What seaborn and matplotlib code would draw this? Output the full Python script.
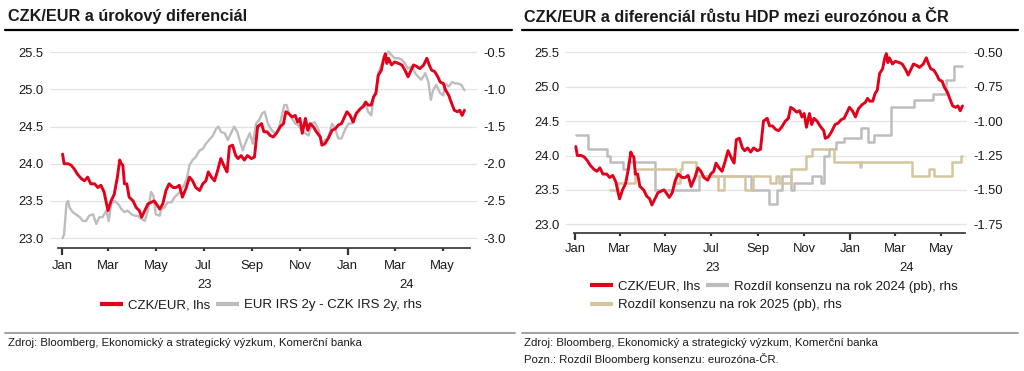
import numpy as np
import pandas as pd
import matplotlib
matplotlib.use('Agg')
import matplotlib.pyplot as plt
import matplotlib.dates as mdates
from matplotlib.lines import Line2D
from matplotlib.ticker import FixedLocator, FixedFormatter
import seaborn as sns

# ---------------- data (day offsets from 2023-01-01) ----------------
czk_days = [1, 3, 8, 12, 16, 20, 25, 29, 33, 37,
            42, 46, 50, 54, 59, 63, 67, 71, 74, 76,
            78, 80, 83, 86, 91, 95, 99, 102, 106, 110,
            114, 118, 122, 125, 129, 133, 137, 142, 146, 150,
            154, 159, 163, 167, 171, 176, 180, 184, 187, 191,
            195, 199, 203, 208, 211, 214, 218, 222, 225, 229,
            233, 237, 242, 246, 250, 255, 258, 262, 266, 270,
            274, 279, 283, 286, 289, 294, 298, 301, 304, 307,
            311, 314, 317, 321, 325, 330, 332, 336, 340, 345,
            349, 353, 357, 361, 364, 368, 372, 376, 381, 385,
            388, 391, 395, 398, 401, 404, 408, 411, 413, 415,
            417, 421, 425, 430, 434, 438, 442, 445, 449, 453,
            457, 462, 466, 469, 472, 476, 480, 483, 487, 490,
            494, 497, 501, 505, 508, 511, 514]
czk_eur = [24.13, 24.00, 24.00, 23.98, 23.93, 23.86, 23.80, 23.77, 23.82, 23.73,
           23.73, 23.68, 23.71, 23.62, 23.37, 23.50, 23.59, 23.82, 24.05, 24.00,
           23.98, 23.73, 23.73, 23.55, 23.50, 23.41, 23.37, 23.28, 23.37, 23.46,
           23.48, 23.50, 23.44, 23.39, 23.46, 23.64, 23.73, 23.68, 23.68, 23.71,
           23.55, 23.68, 23.82, 23.77, 23.68, 23.64, 23.73, 23.77, 23.89, 23.82,
           23.77, 23.91, 24.07, 23.95, 23.89, 24.23, 24.25, 24.11, 24.07, 24.11,
           24.05, 24.11, 24.07, 24.09, 24.50, 24.54, 24.43, 24.43, 24.38, 24.36,
           24.41, 24.50, 24.54, 24.70, 24.68, 24.63, 24.65, 24.56, 24.61, 24.41,
           24.61, 24.45, 24.54, 24.50, 24.43, 24.36, 24.25, 24.27, 24.34, 24.45,
           24.47, 24.52, 24.54, 24.63, 24.70, 24.65, 24.56, 24.68, 24.74, 24.77,
           24.83, 24.79, 24.79, 24.90, 24.95, 25.19, 25.26, 25.42, 25.48, 25.35,
           25.42, 25.33, 25.37, 25.35, 25.33, 25.26, 25.17, 25.24, 25.33, 25.31,
           25.28, 25.33, 25.42, 25.33, 25.26, 25.24, 25.17, 25.10, 25.08, 24.99,
           24.92, 24.83, 24.72, 24.70, 24.72, 24.65, 24.72]

irs_days = [1, 3, 6, 8, 10, 14, 18, 23, 27, 31,
            35, 40, 44, 48, 52, 57, 60, 63, 67, 72,
            76, 80, 84, 89, 93, 97, 101, 106, 110, 114,
            117, 120, 125, 127, 131, 135, 140, 144, 148, 152,
            157, 160, 163, 167, 171, 176, 180, 184, 188, 193,
            197, 200, 203, 208, 212, 216, 220, 224, 227, 231,
            236, 240, 244, 248, 252, 256, 259, 263, 268, 272,
            276, 281, 284, 287, 290, 294, 298, 302, 306, 311,
            315, 319, 323, 328, 332, 336, 340, 345, 349, 353,
            357, 362, 366, 370, 374, 379, 383, 387, 391, 395,
            398, 401, 404, 408, 413, 417, 421, 425, 430, 434,
            438, 442, 447, 451, 455, 459, 464, 468, 471, 474,
            478, 483, 487, 489, 494, 498, 502, 506, 510, 514]
irs_diff = [-3.00, -2.95, -2.54, -2.50, -2.59, -2.65, -2.68, -2.72, -2.77, -2.77,
            -2.70, -2.68, -2.81, -2.72, -2.72, -2.63, -2.77, -2.54, -2.50, -2.54,
            -2.61, -2.65, -2.63, -2.68, -2.70, -2.70, -2.74, -2.77, -2.63, -2.38,
            -2.43, -2.68, -2.70, -2.61, -2.59, -2.52, -2.52, -2.45, -2.41, -2.36,
            -2.27, -2.18, -2.02, -1.95, -1.91, -1.82, -1.80, -1.73, -1.68, -1.62,
            -1.53, -1.50, -1.57, -1.59, -1.68, -1.59, -1.50, -1.57, -1.68, -1.82,
            -1.68, -1.59, -1.73, -1.46, -1.41, -1.32, -1.30, -1.46, -1.55, -1.59,
            -1.57, -1.35, -1.21, -1.21, -1.32, -1.39, -1.46, -1.48, -1.55, -1.59,
            -1.62, -1.46, -1.44, -1.55, -1.73, -1.68, -1.66, -1.46, -1.53, -1.66,
            -1.66, -1.53, -1.46, -1.46, -1.35, -1.30, -1.23, -1.17, -1.30, -1.35,
            -1.12, -1.03, -0.78, -0.67, -0.56, -0.49, -0.54, -0.58, -0.58, -0.60,
            -0.65, -0.72, -0.69, -0.78, -0.83, -0.87, -0.78, -0.90, -1.14, -1.01,
            -0.94, -1.05, -1.08, -0.92, -0.96, -0.90, -0.92, -0.92, -0.94, -1.01]

gdp24_days = [1, 17, 42, 46, 64, 70, 106, 165, 233, 257,
              268, 275, 286, 290, 315, 326, 330, 337, 346, 357,
              379, 388, 397, 419, 450, 475, 492, 503, 513]
gdp24_diff = [-1.10, -1.20, -1.25, -1.30, -1.35, -1.30, -1.50, -1.40, -1.50, -1.60,
              -1.50, -1.40, -1.50, -1.45, -1.40, -1.45, -1.25, -1.20, -1.15, -1.12,
              -1.05, -1.15, -1.10, -0.90, -0.85, -0.80, -0.70, -0.60, -0.60]

gdp25_days = [47, 55, 79, 134, 139, 142, 161, 190, 197, 225,
              236, 258, 267, 270, 286, 306, 315, 344, 378, 380,
              447, 469, 476, 500, 512, 513]
gdp25_diff = [-1.50, -1.45, -1.35, -1.45, -1.35, -1.30, -1.40, -1.50, -1.40, -1.50,
              -1.40, -1.45, -1.40, -1.45, -1.35, -1.25, -1.20, -1.30, -1.33, -1.30,
              -1.40, -1.35, -1.40, -1.30, -1.25, -1.25]

month_ticks = ['2023-01-01', '2023-03-01', '2023-05-01', '2023-07-01', '2023-09-01',
               '2023-11-01', '2024-01-01', '2024-03-01', '2024-05-01']
month_labels = ['Jan', 'Mar', 'May', 'Jul', 'Sep', 'Nov', 'Jan', 'Mar', 'May']
year_pos = ['2023-07-02', '2024-03-16']
year_labels = ['23', '24']

lhs_ticks = [23.0, 23.5, 24.0, 24.5, 25.0, 25.5]
rhs1_ticks = [-3.0, -2.5, -2.0, -1.5, -1.0, -0.5]
rhs2_ticks = [-1.75, -1.50, -1.25, -1.00, -0.75, -0.50]

title1 = 'CZK/EUR a úrokový diferenciál'
title2 = 'CZK/EUR a diferenciál růstu HDP mezi eurozónou a ČR'
leg_czk = 'CZK/EUR, lhs'
leg_irs = 'EUR IRS 2y - CZK IRS 2y, rhs'
leg_24 = 'Rozdíl konsenzu na rok 2024 (pb), rhs'
leg_25 = 'Rozdíl konsenzu na rok 2025 (pb), rhs'
source = 'Zdroj: Bloomberg, Ekonomický a strategický výzkum, Komerční banka'
note = 'Pozn.: Rozdíl Bloomberg konsenzu: eurozóna-ČR.'

# ---------------- styling ----------------
sns.set_theme(style='white')
plt.rcParams['font.family'] = ['Liberation Sans', 'DejaVu Sans']
plt.rcParams['axes.unicode_minus'] = False

RED = '#E2001A'
GRAY = '#BEBCBC'
TAN = '#D5C59E'
TXT = '#1a1a1a'
GRID = '#E4E4E4'
FS_TICK = 9.4
FS_LEG = 9.5

BASE = pd.Timestamp('2023-01-01')


def to_dates(days):
    return BASE + pd.to_timedelta(np.asarray(days), unit='D')


W, H = 1024, 371
fig = plt.figure(figsize=(W / 100, H / 100), dpi=100)
fig.patch.set_facecolor('white')


def fx(px):
    return px / W


def fy(py):
    return 1 - py / H


def add_axes_px(left, top, right, bottom):
    return fig.add_axes([fx(left), fy(bottom), (right - left) / W, (bottom - top) / H])


def dnum(d):
    return mdates.date2num(pd.Timestamp(d))


def style_panel(ax, axr, xlim_days, spine_days, lhs_lim, rhs_lim, rhs_ticks, rhs_fmt,
                label_off_pt, year_off_pt):
    ax.set_xlim(dnum(BASE + pd.Timedelta(days=xlim_days[0])),
                dnum(BASE + pd.Timedelta(days=xlim_days[1])))
    ax.set_ylim(*lhs_lim)
    axr.set_ylim(*rhs_lim)
    for a in (ax, axr):
        a.set_xlabel('')
        a.set_ylabel('')
        for s in a.spines.values():
            s.set_visible(False)
        a.grid(False)
    ax.spines['bottom'].set_visible(True)
    ax.spines['bottom'].set_color('#404040')
    ax.spines['bottom'].set_linewidth(1.3)
    ax.spines['bottom'].set_bounds(dnum(BASE + pd.Timedelta(days=spine_days[0])),
                                   dnum(BASE + pd.Timedelta(days=spine_days[1])))
    # y ticks
    ax.yaxis.set_major_locator(FixedLocator(lhs_ticks))
    ax.yaxis.set_major_formatter(FixedFormatter([f'{v:.1f}' for v in lhs_ticks]))
    axr.yaxis.set_major_locator(FixedLocator(rhs_ticks))
    axr.yaxis.set_major_formatter(FixedFormatter([rhs_fmt.format(v) for v in rhs_ticks]))
    ax.tick_params(axis='y', left=False, length=0, pad=4.8, labelsize=FS_TICK, labelcolor=TXT)
    axr.tick_params(axis='y', right=False, length=0, pad=4.6, labelsize=FS_TICK, labelcolor=TXT)
    axr.yaxis.grid(True, color=GRID, linewidth=0.9)
    # x ticks: Jan = major (long tick), other months = minor
    jan = [dnum(d) for d, l in zip(month_ticks, month_labels) if l == 'Jan']
    oth = [dnum(d) for d, l in zip(month_ticks, month_labels) if l != 'Jan']
    oth_lab = [l for l in month_labels if l != 'Jan']
    ax.xaxis.set_major_locator(FixedLocator(jan))
    ax.xaxis.set_major_formatter(FixedFormatter(['Jan'] * len(jan)))
    ax.xaxis.set_minor_locator(FixedLocator(oth))
    ax.xaxis.set_minor_formatter(FixedFormatter(oth_lab))
    ax.tick_params(axis='x', which='major', bottom=True, length=5.2, width=1.6,
                   color='#333333', pad=label_off_pt - 5.2, labelsize=FS_TICK, labelcolor=TXT)
    ax.tick_params(axis='x', which='minor', bottom=True, length=2.2, width=1.6,
                   color='#333333', pad=label_off_pt - 2.2, labelsize=FS_TICK, labelcolor=TXT)
    for pos, lab in zip(year_pos, year_labels):
        ax.annotate(lab, xy=(dnum(pos), 0), xycoords=ax.get_xaxis_transform(),
                    xytext=(0, -year_off_pt), textcoords='offset points',
                    ha='center', va='center', fontsize=FS_TICK, color=TXT,
                    annotation_clip=False)
    # red (lhs) drawn above the rhs axes
    ax.set_zorder(axr.get_zorder() + 1)
    ax.patch.set_visible(False)


# ---------------- left panel ----------------
ax1 = add_axes_px(50, 41, 477, 248)
ax1r = ax1.twinx()
sns.lineplot(x=to_dates(irs_days), y=irs_diff, ax=ax1r, color=GRAY, linewidth=1.7,
             estimator=None, sort=False)
sns.lineplot(x=to_dates(czk_days), y=czk_eur, ax=ax1, color=RED, linewidth=2.1,
             estimator=None, sort=False)
style_panel(ax1, ax1r, (-15, 530), (-5, 521), (22.866, 25.652), (-3.134, -0.348),
            rhs1_ticks, '{:.1f}', label_off_pt=8.7, year_off_pt=26.6)

# ---------------- right panel ----------------
ax2 = add_axes_px(566, 41, 967, 233.3)
ax2r = ax2.twinx()
sns.lineplot(x=to_dates(gdp24_days), y=gdp24_diff, ax=ax2r, color=GRAY, linewidth=1.8,
             estimator=None, sort=False, drawstyle='steps-post')
sns.lineplot(x=to_dates(gdp25_days), y=gdp25_diff, ax=ax2r, color=TAN, linewidth=1.8,
             estimator=None, sort=False, drawstyle='steps-post')
sns.lineplot(x=to_dates(czk_days), y=czk_eur, ax=ax2, color=RED, linewidth=2.1,
             estimator=None, sort=False)
style_panel(ax2, ax2r, (-12, 520), (-2, 517.6), (22.869, 25.664), (-1.815, -0.418),
            rhs2_ticks, '{:.2f}', label_off_pt=7.2, year_off_pt=24.7)

# ---------------- legends ----------------
def h(color):
    return Line2D([], [], color=color, linewidth=3.0, solid_capstyle='butt')


leg_kw = dict(loc='center left', frameon=False, fontsize=FS_LEG, borderpad=0,
              borderaxespad=0, handlelength=1.75, handletextpad=0.36, columnspacing=0.43,
              labelcolor=TXT, bbox_transform=fig.transFigure)
fig.legend([h(RED), h(GRAY)], [leg_czk, leg_irs], ncol=2,
           bbox_to_anchor=(fx(100), fy(305)), **leg_kw)
fig.legend([h(RED), h(GRAY)], [leg_czk, leg_24], ncol=2,
           bbox_to_anchor=(fx(590), fy(286.7)), **leg_kw)
fig.legend([h(TAN)], [leg_25], ncol=1,
           bbox_to_anchor=(fx(590), fy(305)), **leg_kw)

# ---------------- titles, rules, footers ----------------
fig.text(fx(8), fy(17), title1, fontsize=11.7, fontweight='bold', color=TXT, va='center')
fig.text(fx(524), fy(17), title2, fontsize=11.7, fontweight='bold', color=TXT, va='center')
for x0, x1 in [(5, 512), (522, 1018)]:
    fig.add_artist(Line2D([fx(x0), fx(x1)], [fy(30), fy(30)], color='black',
                          linewidth=1.6, transform=fig.transFigure))
for x0, x1 in [(5, 515), (522, 1018)]:
    fig.add_artist(Line2D([fx(x0), fx(x1)], [fy(332.5), fy(332.5)], color='#9a9a9a',
                          linewidth=1.3, transform=fig.transFigure))
fig.text(fx(8), fy(343.5), source, fontsize=8.2, color=TXT, va='center')
fig.text(fx(524), fy(343.5), source, fontsize=8.2, color=TXT, va='center')
fig.text(fx(524), fy(359.3), note, fontsize=8.2, color=TXT, va='center')

fig.savefig('out.png', dpi=100, facecolor='white')
